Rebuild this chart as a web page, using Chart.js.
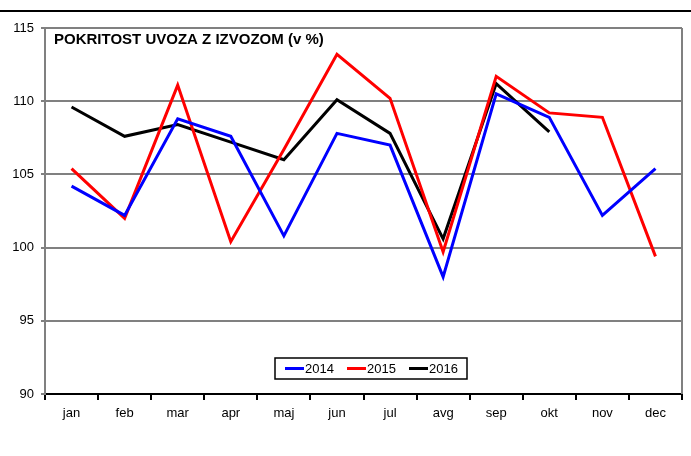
<!DOCTYPE html>
<html>
<head>
<meta charset="utf-8">
<script src="https://cdn.jsdelivr.net/npm/chart.js@4.4.0/dist/chart.umd.min.js"></script>
<style>
  html, body { margin: 0; padding: 0; background: #fff; }
  #wrap { width: 691px; height: 456px; position: relative; }
</style>
</head>
<body>
<div id="wrap"><canvas id="chart" width="691" height="456"></canvas></div>
<script>
const months = ["jan", "feb", "mar", "apr", "maj", "jun", "jul", "avg", "sep", "okt", "nov", "dec"];
const years = ["2014", "2015", "2016"];
const colors = ["#0000ff", "#ff0000", "#000000"];
const v2014 = [104.2, 102.2, 108.8, 107.6, 100.8, 107.8, 107.0, 98.0, 110.5, 108.9, 102.2, 105.4];
const v2015 = [105.4, 102.0, 111.1, 100.4, 106.7, 113.2, 110.2, 99.7, 111.7, 109.2, 108.9, 99.4];
const v2016 = [109.6, 107.6, 108.4, 107.2, 106.0, 110.1, 107.8, 100.6, 111.2, 107.9];
const title = "POKRITOST UVOZA Z IZVOZOM (v %)";
const font = "Liberation Sans, Arial, sans-serif";

const extras = {
  id: "extras",
  afterDraw(chart) {
    const { ctx, chartArea: a } = chart;
    ctx.save();
    // top rule
    ctx.fillStyle = "#000";
    ctx.fillRect(0, 10, 691, 2);
    // right border
    ctx.strokeStyle = "#808080";
    ctx.lineWidth = 2;
    ctx.beginPath();
    ctx.moveTo(a.right, a.top);
    ctx.lineTo(a.right, a.bottom);
    ctx.stroke();
    // title
    ctx.fillStyle = "#000";
    ctx.font = "bold 15px " + font;
    ctx.textBaseline = "middle";
    ctx.fillText(title, 54, 40);
    // legend box
    const lx = 275, ly = 358, lw = 192, lh = 21;
    ctx.fillStyle = "#fff";
    ctx.fillRect(lx, ly, lw, lh);
    ctx.strokeStyle = "#000";
    ctx.lineWidth = 1.5;
    ctx.strokeRect(lx, ly, lw, lh);
    ctx.font = "13px " + font;
    chart.data.datasets.forEach((ds, i) => {
      const x = lx + 10 + i * 62;
      ctx.strokeStyle = ds.borderColor;
      ctx.lineWidth = 3;
      ctx.beginPath();
      ctx.moveTo(x, ly + lh / 2);
      ctx.lineTo(x + 19, ly + lh / 2);
      ctx.stroke();
      ctx.fillStyle = "#000";
      ctx.fillText(ds.label, x + 20, ly + lh / 2 + 1);
    });
    ctx.restore();
  }
};

new Chart(document.getElementById("chart"), {
  type: "line",
  data: {
    labels: months,
    datasets: [v2014, v2015, v2016].map((d, i) => ({
      label: years[i],
      data: d,
      borderColor: colors[i],
      borderWidth: 3,
      pointRadius: 0,
      tension: 0,
      fill: false
    }))
  },
  options: {
    responsive: false,
    animation: false,
    layout: { padding: { top: 28, right: 9, left: 0, bottom: 0 } },
    plugins: { legend: { display: false }, tooltip: { enabled: false } },
    scales: {
      x: {
        offset: true,
        afterFit(s) { s.height = 62; },
        grid: { offset: true, drawOnChartArea: false, color: "#000", lineWidth: 2, tickLength: 6 },
        border: { color: "#000", width: 2 },
        ticks: { color: "#000", font: { family: font, size: 13 }, padding: 6 }
      },
      y: {
        min: 90,
        max: 115,
        afterFit(s) { s.width = 45; },
        grid: { color: "#808080", lineWidth: 2, tickLength: 4 },
        border: { color: "#808080", width: 2 },
        ticks: { stepSize: 5, color: "#000", font: { family: font, size: 13 }, padding: 7 }
      }
    }
  },
  plugins: [extras]
});
</script>
</body>
</html>
